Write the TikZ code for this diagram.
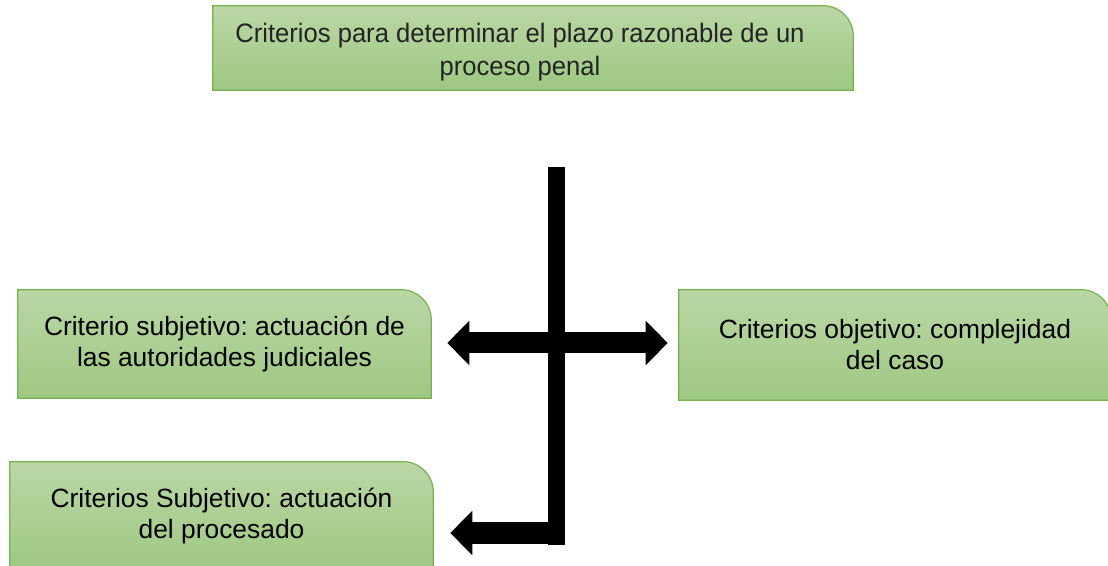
\documentclass[tikz,border=0pt]{standalone}
\usepackage{fontspec}
\setmainfont{Liberation Sans}
\newfontfamily\titulofont[FakeStretch=0.96]{Liberation Sans}
\usetikzlibrary{arrows.meta,calc,backgrounds}

\definecolor{verdeclaro}{RGB}{186,215,166}
\definecolor{verdeoscuro}{RGB}{158,200,130}
\definecolor{verdeborde}{RGB}{118,178,80}
\definecolor{textotitulo}{RGB}{35,35,35}

\tikzset{
	criterio/.style={inner sep=0pt, align=center, font=\fontsize{19.8}{23.25}\selectfont\frenchspacing},
	fondo/.style={top color=verdeclaro, bottom color=verdeoscuro, draw=verdeborde, line width=0.9pt},
	barra/.style={line width=12.75pt},
	flecha/.style={line width=15.75pt, -{Triangle[width=32.25pt,length=16.5pt]}}
}

\newcommand{\cajaverde}[1]{%
	\path[fondo] (#1.south west) -- (#1.north west) -- ([xshift=-22.5pt]#1.north east)
		arc[start angle=90, end angle=0, radius=22.5pt] -- (#1.south east) -- cycle;}

\begin{document}
\begin{tikzpicture}[x=0.75pt, y=0.75pt]
				\useasboundingbox (0,0) rectangle (1108,566);

				% Titulo
				\node[inner sep=0pt, minimum width=480pt, minimum height=63pt] (titulo) at (533,518) {};
				\node[criterio, text=textotitulo, font=\titulofont\fontsize{20}{24.75}\selectfont] (titulotexto) at (520,514)
					{Criterios para determinar el plazo razonable de un\\proceso penal};

				% Criterios
				\node[criterio, minimum width=309.75pt, minimum height=81pt] (judiciales) at (224.5,222)
					{Criterio subjetivo: actuación de\\las autoridades judiciales};
				\node[criterio, minimum width=324pt, minimum height=82.5pt] (complejidad) at (895,221)
					{Criterios objetivo: complejidad\\del caso};
				\node[criterio, minimum width=317.25pt, minimum height=81pt] (procesado) at (221.5,50)
					{Criterios Subjetivo: actuación\\del procesado};

				\begin{scope}[on background layer]
					\cajaverde{titulo}
					\cajaverde{judiciales}
					\cajaverde{complejidad}
					\cajaverde{procesado}
				\end{scope}

				% Flechas
				\coordinate (tronco) at (556.5,399);
				\coordinate (pie) at (556.5,21);
				\coordinate (cruce) at (556.5,223);
				\coordinate (codo) at (556.5,33);
				\draw[barra] (tronco) -- (pie);
				\draw[flecha] (cruce) -- ($(cruce -| judiciales.east)+(12pt,0)$);
				\draw[flecha] (cruce) -- ($(cruce -| complejidad.west)+(-8.25pt,0)$);
				\draw[flecha, line width=16.5pt] ($(codo)+(6.4pt,0)$) -- ($(codo -| procesado.east)+(12.75pt,0)$);
			\end{tikzpicture}
\end{document}
